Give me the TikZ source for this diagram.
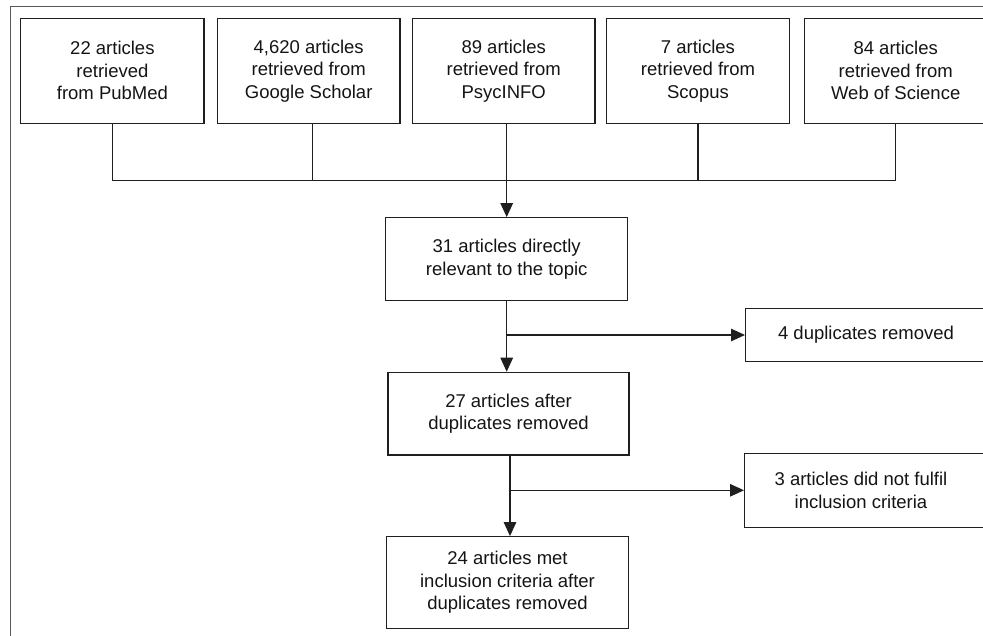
\documentclass[tikz,border=0pt]{standalone}
\usepackage{fontspec}
\setmainfont{Liberation Sans}
\usetikzlibrary{arrows.meta}
\begin{document}
\begin{tikzpicture}[x=1pt,y=-1pt,
  line/.style={draw=black!88, line width=1.2pt},
  box/.style={line, rectangle, align=center, inner sep=0pt, text=black!92,
    font=\fontsize{18.5}{22.5}\selectfont},
  txt/.style={align=center, inner sep=0pt, text=black!92,
    font=\fontsize{18.5}{22.5}\selectfont},
  arr/.style={line, -{Triangle[length=14pt,width=12.5pt]}},
  frame/.style={draw=black!65, line width=0.9pt}]
\clip (0,0) rectangle (983,636);
\useasboundingbox (0,0) rectangle (983,636);
% outer frame (cropped)
\draw[frame] (10.7,650) -- (10.7,6.7) -- (1000,6.7);
% top row
\node[box, minimum width=183.3pt, minimum height=105pt] (b1) at (112.4,70.8) {22 articles\\retrieved\\from PubMed};
\node[box, minimum width=182.7pt, minimum height=105pt] (b2) at (308.7,70.8) {4,620 articles\\retrieved from\\Google Scholar};
\node[box, minimum width=182.7pt, minimum height=105pt] (b3) at (503.7,70.8) {89 articles\\retrieved from\\PsycINFO};
\node[box, minimum width=182.6pt, minimum height=105pt] (b4) at (698,70.8) {7 articles\\retrieved from\\Scopus};
\node[box, minimum width=183pt, minimum height=105pt] (b5) at (895.7,70.8) {84 articles\\retrieved from\\Web of Science};
\coordinate (j0) at (506.7,180.7);
% bus
\draw[line] (b1.south) -- (b1.south |- j0) -- (b5.south |- j0) -- (b5.south);
\draw[line] ([xshift=3.6pt]b2.south) -- ([xshift=3.6pt]b2.south |- j0);
\draw[line] (b4.south) -- (b4.south |- j0);
% main column
\node[box, minimum width=242pt, minimum height=83pt] (c1) at (506.7,259.2) {31 articles directly\\relevant to the topic};
\node[box, minimum width=241pt, minimum height=82.7pt] (c2) at (508.5,413.7) {27 articles after\\duplicates removed};
\node[box, minimum width=242pt, minimum height=91.6pt] (c3) at (507.5,582.5) {24 articles met\\inclusion criteria after\\duplicates removed};
% side boxes
\node[box, minimum width=270pt, minimum height=53.4pt, anchor=west] (r1) at (745,335) {};
\node[txt] (r1t) at (866,335) {4 duplicates removed};
\node[box, minimum width=270pt, minimum height=74pt, anchor=west] (r2) at (744,490.3) {};
\node[txt] (r2t) at (861,490.3) {3 articles did not fulfil\\inclusion criteria};
% connectors
\draw[arr] ([xshift=3pt]b3.south) -- (c1.north);
\draw[arr] (c1.south) -- (c1.south |- c2.north);
\draw[arr] (c1.south |- r1.west) -- (r1.west);
\draw[arr] ([xshift=1.5pt]c2.south) -- ([xshift=1.5pt]c2.south |- c3.north);
\draw[arr] ([xshift=1.5pt]c2.south |- r2.west) -- (r2.west);
\end{tikzpicture}
\end{document}
